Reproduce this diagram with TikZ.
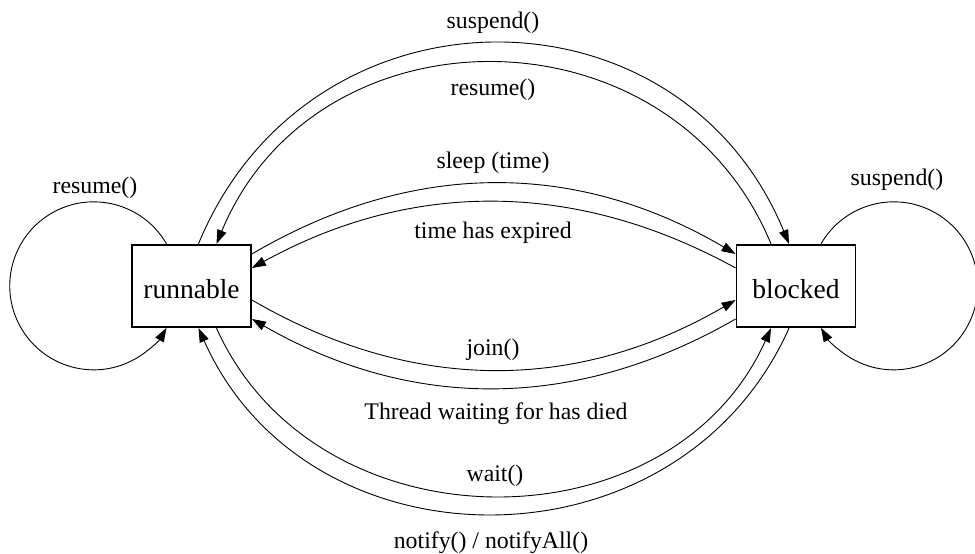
\documentclass[tikz,border=0pt]{standalone}
\usepackage{fontspec}
\setmainfont{Liberation Serif}
\usetikzlibrary{arrows.meta,calc}
\begin{document}
\begin{tikzpicture}[x=1pt,y=1pt,
  state/.style={draw,line width=1.8pt,minimum width=119pt,minimum height=82.5pt,
    inner sep=0pt,text height=25pt,text depth=0pt,font=\fontsize{27.5}{30}\selectfont},
  trans/.style={line width=0.9pt,-{Triangle[length=14pt,width=9.5pt]}},
  lbl/.style={font=\fontsize{23.8}{26}\selectfont,inner sep=0pt}]
\fill[white] (0,0) rectangle (975,554);
\useasboundingbox (0,0) rectangle (975,554);

% the two thread states
\node[state] (run) at (191.5,268) {runnable};
\node[state] (blk) at (796,268) {blocked};

% attachment points on the runnable box
\coordinate (r-n0) at ($(run.north)+(-25,0)$);
\coordinate (r-n1) at ($(run.north)+(7,0)$);
\coordinate (r-n2) at ($(run.north)+(25,0)$);
\coordinate (r-s1) at ($(run.south)+(7,0)$);
\coordinate (r-s2) at ($(run.south)+(25,0)$);
\coordinate (r-e1) at ($(run.east)+(0,32)$);
\coordinate (r-e2) at ($(run.east)+(0,18)$);
\coordinate (r-e3) at ($(run.east)+(0,-14)$);
\coordinate (r-e4) at ($(run.east)+(0,-33)$);
% attachment points on the blocked box
\coordinate (b-n0) at ($(blk.north)+(25,0)$);
\coordinate (b-n1) at ($(blk.north)+(-7,0)$);
\coordinate (b-n2) at ($(blk.north)+(-25,0)$);
\coordinate (b-s1) at ($(blk.south)+(-7,0)$);
\coordinate (b-s2) at ($(blk.south)+(-25,0)$);
\coordinate (b-e1) at ($(blk.west)+(0,32)$);
\coordinate (b-e2) at ($(blk.west)+(0,18)$);
\coordinate (b-e3) at ($(blk.west)+(0,-14)$);
\coordinate (b-e4) at ($(blk.west)+(0,-33)$);

% transitions over the top
\draw[trans] (r-n1) .. controls ($(r-n1)+(110,267)$) and ($(b-n1)+(-110,267)$) .. (b-n1);
\draw[trans] (b-n2) .. controls ($(b-n2)+(-100,241)$) and ($(r-n2)+(100,241)$) .. (r-n2);
% transitions between the side faces
\draw[trans] (r-e1) .. controls ($(r-e1)+(160,94)$) and ($(b-e1)+(-160,94)$) .. (b-e1);
\draw[trans] (b-e2) .. controls ($(b-e2)+(-160,88)$) and ($(r-e2)+(160,88)$) .. (r-e2);
\draw[trans] (r-e3) .. controls ($(r-e3)+(160,-93)$) and ($(b-e3)+(-160,-93)$) .. (b-e3);
\draw[trans] (b-e4) .. controls ($(b-e4)+(-160,-92)$) and ($(r-e4)+(160,-92)$) .. (r-e4);
% transitions underneath
\draw[trans] (r-s2) .. controls ($(r-s2)+(100,-223)$) and ($(b-s2)+(-100,-223)$) .. (b-s2);
\draw[trans] (b-s1) .. controls ($(b-s1)+(-110,-247)$) and ($(r-s1)+(110,-247)$) .. (r-s1);
% self loops
\draw[trans] (r-n0) arc[start angle=30,end angle=330,radius=84];
\draw[trans] (b-n0) arc[start angle=150,end angle=-150,radius=84];

% transition labels
\node[lbl] (l-susp)  at (493,531.5) {suspend()};
\node[lbl] (l-res)   at (493,464.5) {resume()};
\node[lbl] (l-sleep) at (493,391.5) {sleep (time)};
\node[lbl] (l-exp)   at (493,321.5) {time has expired};
\node[lbl] (l-join)  at (493,204.5) {join()};
\node[lbl] (l-died)  at (496,140.5) {Thread waiting for has died};
\node[lbl] (l-wait)  at (495,78.5)  {wait()};
\node[lbl] (l-notif) at (491,11.5)  {notify() / notifyAll()};
\node[lbl] (l-lres)  at (95,366.5)  {resume()};
\node[lbl] (l-rsusp) at (897,374.5) {suspend()};
\end{tikzpicture}
\end{document}
